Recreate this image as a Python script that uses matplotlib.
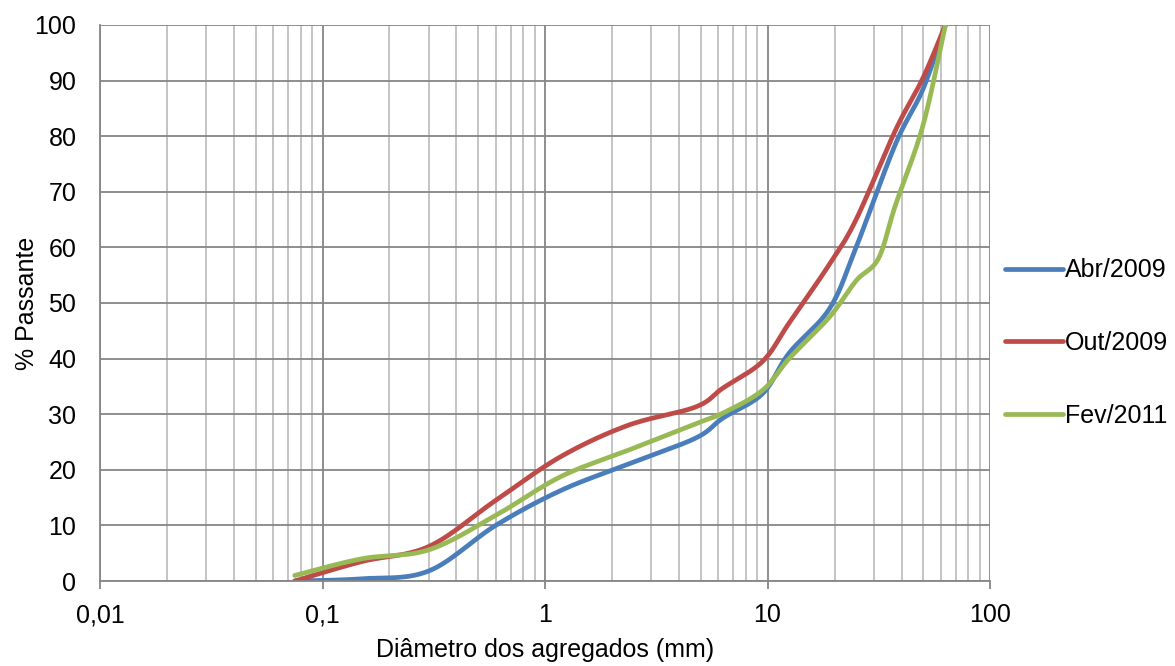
import numpy as np
import matplotlib
matplotlib.use("Agg")
import matplotlib.pyplot as plt
from matplotlib.ticker import FixedLocator, NullFormatter, LogLocator

plt.rcParams['font.family'] = ['Liberation Sans', 'DejaVu Sans']

# peneiras (mm) e % passante
peneiras_abr = [0.075, 0.15, 0.3, 0.6, 1.18, 2.36, 4.75, 6.3, 9.5, 12.5, 19, 25, 37.5, 50, 63]
abr_2009 = [0, 0.4, 1.8, 10, 16.3, 21, 25.7, 29.3, 33.7, 41, 49, 60, 78.5, 88.5, 100]
peneiras_out = [0.075, 0.15, 0.3, 0.6, 1.18, 2.36, 4.75, 6.3, 9.5, 12.5, 19, 25, 37.5, 50, 63]
out_2009 = [0, 3.5, 6.2, 14.5, 22.4, 28, 31.3, 34.7, 39.5, 46.4, 57, 65, 81, 90.5, 100]
peneiras_fev = [0.075, 0.15, 0.3, 0.6, 1.18, 2.36, 4.75, 6.3, 9.5, 12.5, 19, 25, 31.5, 37.5, 50, 63]
fev_2011 = [1, 4, 5.6, 11.8, 18.8, 23.5, 28.3, 30.2, 34.3, 40, 47.5, 54, 58, 67.5, 82, 100]

series = ["Abr/2009", "Out/2009", "Fev/2011"]
cores = ["#4A7EBB", "#BE4B48", "#98B954"]


def suaviza(x, y, n=30):
    # bezier tipo catmull-rom (linha suavizada do excel), em log x
    lx = np.log10(np.asarray(x, float))
    y = np.asarray(y, float)
    p = np.column_stack([lx, y])
    p = np.vstack([p[0], p, p[-1]])
    out = []
    t = np.linspace(0, 1, n)[:, None]
    for i in range(1, len(p) - 2):
        p0, p1, p2, p3 = p[i - 1], p[i], p[i + 1], p[i + 2]
        c1 = p1 + (p2 - p0) / 6
        c2 = p2 - (p3 - p1) / 6
        b = ((1 - t) ** 3) * p1 + 3 * ((1 - t) ** 2) * t * c1 + 3 * (1 - t) * t ** 2 * c2 + t ** 3 * p2
        out.append(b)
    out = np.vstack(out)
    return 10 ** out[:, 0], out[:, 1]


fig = plt.figure(figsize=(11.75, 6.66), dpi=100)
ax = fig.add_axes([0.0851, 0.1276, 0.7575, 0.8349])

dados = [(peneiras_abr, abr_2009), (peneiras_out, out_2009), (peneiras_fev, fev_2011)]
for nome, (px, vals), cor in zip(series, dados, cores):
    xs, ys = suaviza(px, vals)
    ax.plot(xs, ys, color=cor, lw=3.4, label=nome, solid_capstyle='round')

ax.set_xscale('log')
ax.set_xlim(0.01, 100)
ax.set_ylim(0, 100)
ax.set_yticks(range(0, 101, 10))
ax.xaxis.set_major_locator(FixedLocator([0.01, 0.1, 1, 10, 100]))
ax.xaxis.set_minor_locator(LogLocator(base=10, subs=np.arange(2, 10)))
ax.xaxis.set_minor_formatter(NullFormatter())
ax.set_xticklabels(["0,01", "0,1", "1", "10", "100"])

ax.grid(True, which='major', color='#868686', lw=1.3)
ax.grid(True, which='minor', axis='x', color='#BFBFBF', lw=1.3)
ax.set_axisbelow(True)

for s in ['top', 'right']:
    ax.spines[s].set_visible(False)
for s in ['left', 'bottom']:
    ax.spines[s].set_color('#868686')
    ax.spines[s].set_linewidth(1.3)

ax.tick_params(axis='x', which='major', length=6, color='#868686', width=1.3, labelsize=18, pad=10)
ax.tick_params(axis='x', which='minor', length=0)
ax.tick_params(axis='y', length=0, labelsize=18, pad=17)

ax.set_xlabel("Diâmetro dos agregados (mm)", fontsize=18, labelpad=8)
ax.set_ylabel("% Passante", fontsize=18, labelpad=-3)

ax.legend(loc='center left', bbox_to_anchor=(1.0, 0.428), frameon=False, fontsize=18,
          handlelength=2.3, handletextpad=0.1, labelspacing=1.95, borderaxespad=0.6,
          borderpad=0)

fig.savefig("out.png", dpi=100)
